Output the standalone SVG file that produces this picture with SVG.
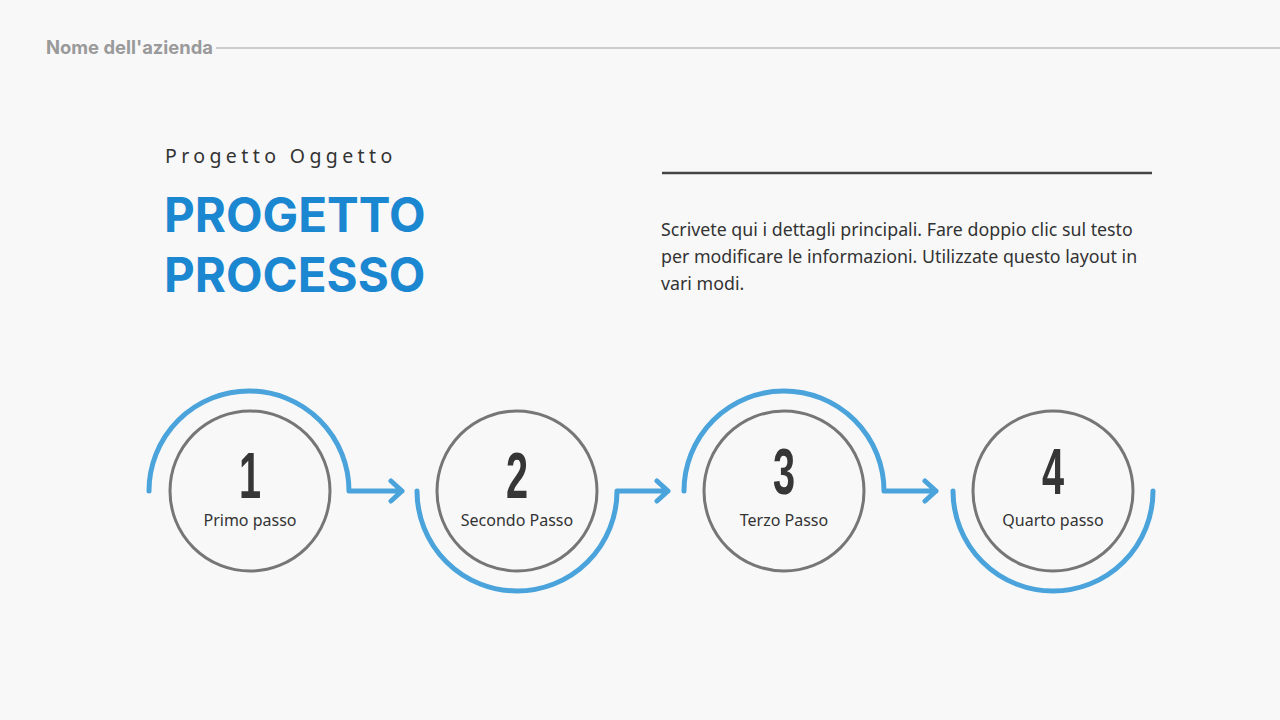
<svg xmlns="http://www.w3.org/2000/svg" width="1280" height="720" viewBox="0 0 1280 720">
<style>
.ring{fill:none;stroke:#767676;stroke-width:3}
.blue{fill:none;stroke:#4aa3db;stroke-width:5;stroke-linecap:round;stroke-linejoin:round}
.num{font-family:"Liberation Sans","DejaVu Sans",sans-serif;font-weight:700;font-size:64px;fill:#363636;text-anchor:middle}
.lbl{font-family:"Noto Sans","Open Sans",sans-serif;font-size:16px;fill:#333;text-anchor:middle}
.para{font-family:"Noto Sans","Open Sans",sans-serif;font-size:17.8px;fill:#333}
.title{font-family:Inter,"Liberation Sans",sans-serif;font-weight:700;font-size:47.5px;fill:#1a87d0}
</style>
<rect width="1280" height="720" fill="#f8f8f9"/>
<g id="header">
<text x="46" y="54" font-family="Inter,'Liberation Sans',sans-serif" font-weight="700" font-size="18.4" fill="#9a9a9a">Nome dell'azienda</text>
<line x1="216" y1="48" x2="1280" y2="48" stroke="#cccccc" stroke-width="2"/>
</g>
<g id="title">
<text x="165" y="163" font-family="'Noto Sans','Open Sans',sans-serif" font-size="19.5" letter-spacing="4.4" fill="#333">Progetto Oggetto</text>
<text x="164" y="232" class="title">PROGETTO</text>
<text x="164" y="292" class="title">PROCESSO</text>
</g>
<g id="description">
<line x1="662" y1="173" x2="1152" y2="173" stroke="#444" stroke-width="2.5"/>
<text class="para" x="661" y="236">Scrivete qui i dettagli principali. Fare doppio clic sul testo</text>
<text class="para" x="661" y="263">per modificare le informazioni. Utilizzate questo layout in</text>
<text class="para" x="661" y="290">vari modi.</text>
</g>
<g id="connectors">
<path class="blue" d="M149,491 A100,100 0 0 1 349,491 H402 M391,481 L402,491 L391,501"/>
<path class="blue" d="M417,491 A100,100 0 0 0 617,491 H668 M657,481 L668,491 L657,501"/>
<path class="blue" d="M684,491 A100,100 0 0 1 884,491 H936 M925,481 L936,491 L925,501"/>
<path class="blue" d="M953,491 A100,100 0 0 0 1153,491"/>
</g>
<g id="step1">
<circle class="ring" cx="250" cy="491" r="80"/>
<text class="num" transform="translate(250,498) scale(0.62,1)">1</text>
<text class="lbl" x="250" y="526">Primo passo</text>
</g>
<g id="step2">
<circle class="ring" cx="517" cy="491" r="80"/>
<text class="num" transform="translate(517,498) scale(0.62,1)">2</text>
<text class="lbl" x="517" y="526">Secondo Passo</text>
</g>
<g id="step3">
<circle class="ring" cx="784" cy="491" r="80"/>
<text class="num" transform="translate(784,494) scale(0.62,1)">3</text>
<text class="lbl" x="784" y="526">Terzo Passo</text>
</g>
<g id="step4">
<circle class="ring" cx="1053" cy="491" r="80"/>
<text class="num" transform="translate(1053,494) scale(0.62,1)">4</text>
<text class="lbl" x="1053" y="526">Quarto passo</text>
</g>
</svg>
